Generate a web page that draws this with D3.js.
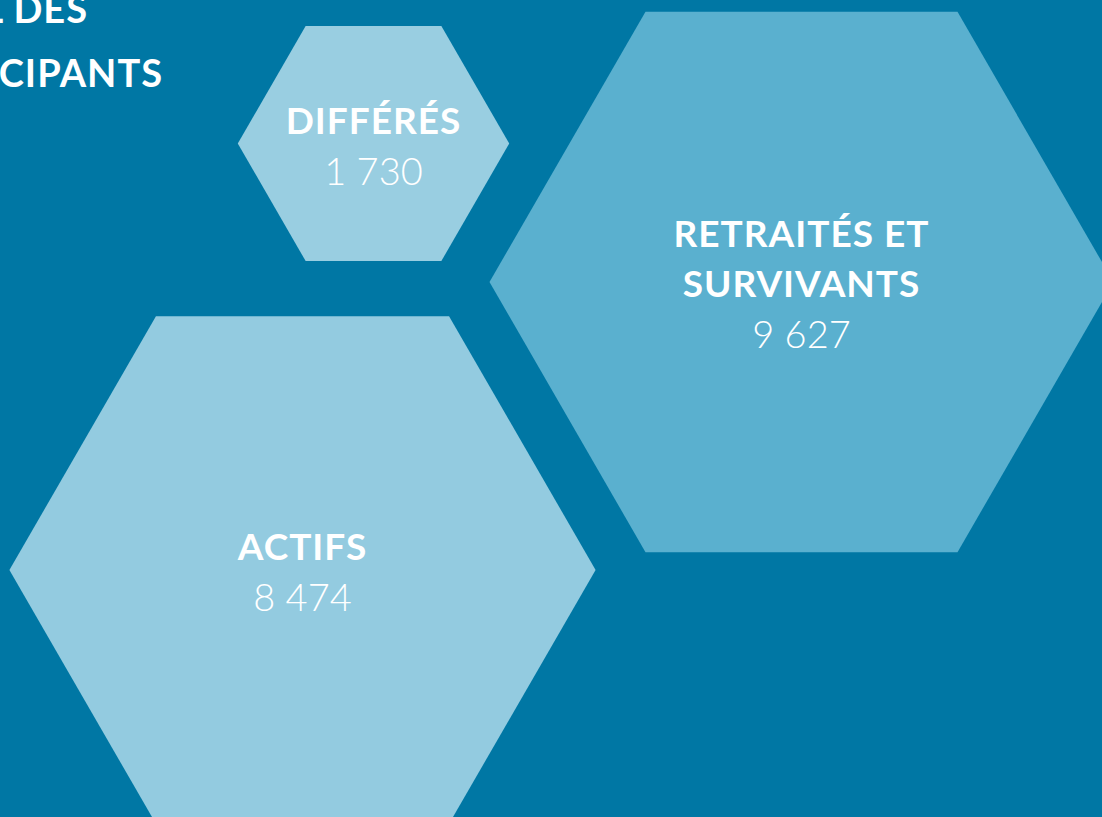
<!DOCTYPE html>
<html>
<head>
<meta charset="utf-8">
<script src="https://cdn.jsdelivr.net/npm/d3@7"></script>
<style>
  html, body { margin: 0; padding: 0; background: #0077A4; overflow: hidden; }
  svg { display: block; }
</style>
</head>
<body>
<div id="chart"></div>
<script>
// ---- data ----
const categories = ["DIFFÉRÉS", "RETRAITÉS ET SURVIVANTS", "ACTIFS"];
const labelLines = [["DIFFÉRÉS"], ["RETRAITÉS ET", "SURVIVANTS"], ["ACTIFS"]];
const values = [1730, 9627, 8474];
const titleLines = ["TOTAL DES", "PARTICIPANTS"];

// ---- layout / style (not data) ----
const W = 1102, H = 817;
const centers = [[373.5, 143.5], [801.5, 282], [302.5, 570]];
const fills = ["#99CEE1", "#5AB0CF", "#93CBE0"];
const bg = "#0077A4";

const svg = d3.select("#chart").append("svg")
  .attr("width", W).attr("height", H);

svg.append("rect").attr("width", W).attr("height", H).attr("fill", bg);

// hexagon size scale: area ~ value
const r = d3.scaleSqrt().domain([0, d3.max(values)]).range([6, 312]);

const hexLine = d3.line();
function hexPoints(cx, cy, R) {
  return d3.range(6).map(i => {
    const a = Math.PI / 3 * i;
    return [cx + R * Math.cos(a), cy + R * Math.sin(a)];
  });
}

const fmt = v => d3.format(",")(v).replace(/,/g, " ");

const data = categories.map((c, i) => ({
  cat: c, lines: labelLines[i], value: values[i],
  cx: centers[i][0], cy: centers[i][1], fill: fills[i]
}));

const g = svg.selectAll("g.hex").data(data).join("g").attr("class", "hex");

g.append("path")
  .attr("d", d => hexLine(hexPoints(d.cx, d.cy, r(d.value))) + "Z")
  .attr("fill", d => d.fill);

const fontBold = "Lato, 'Open Sans', 'DejaVu Sans', sans-serif";

g.each(function(d) {
  const sel = d3.select(this);
  const n = d.lines.length;
  const first = d.cy - 10 - (n - 1) * 25;
  d.lines.forEach((ln, k) => {
    sel.append("text")
      .attr("x", d.cx).attr("y", first + k * 50)
      .attr("text-anchor", "middle")
      .attr("fill", "#fff")
      .attr("font-family", fontBold)
      .attr("font-weight", 700)
      .attr("font-size", 37)
      .attr("letter-spacing", 1)
      .text(ln);
  });
  sel.append("text")
    .attr("x", d.cx).attr("y", first + (n - 1) * 50 + 51)
    .attr("text-anchor", "middle")
    .attr("fill", "#fff")
    .attr("font-family", fontBold)
    .attr("font-weight", 300)
    .attr("font-size", 38)
    .text(fmt(d.value));
});

// title (partially cropped at the left/top edge, as in the reference)
const titleRight = [88, 163];
const titleBase = [23, 87];
svg.selectAll("text.title").data(titleLines).join("text")
  .attr("class", "title")
  .attr("x", (d, i) => titleRight[i])
  .attr("y", (d, i) => titleBase[i])
  .attr("text-anchor", "end")
  .attr("fill", "#fff")
  .attr("font-family", fontBold)
  .attr("font-weight", 700)
  .attr("font-size", 38)
  .attr("letter-spacing", 1)
  .text(d => d);
</script>
</body>
</html>
